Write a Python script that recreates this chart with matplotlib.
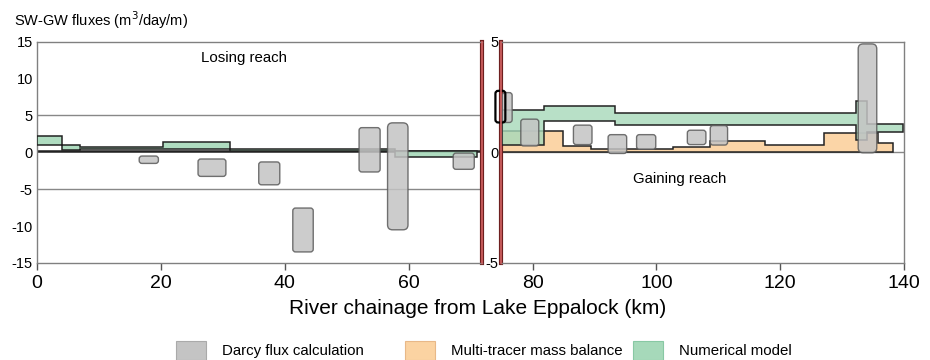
import numpy as np
import matplotlib.pyplot as plt
from matplotlib.patches import FancyBboxPatch, Rectangle

plt.rcParams['font.family'] = ['Liberation Sans', 'DejaVu Sans']
plt.rcParams['axes.unicode_minus'] = False

# ---- data (km, m3/day/m) ----
# numerical model, losing reach: segment edges, lower and upper bounds
num_l_x = [0, 4.1, 7.0, 20.4, 31.1, 57.8, 71.0]
num_l_lo = [1.0, 0.33, 0.4, 0.4, 0.15, -0.58]
num_l_hi = [2.27, 1.0, 0.77, 1.4, 0.4, 0.13]
# multi-tracer, losing reach
mt_l_x = [0, 71.5]
mt_l_lo = [0.0]
mt_l_hi = [0.12]
# darcy boxes, losing reach: x0, x1, y0, y1
darcy_l = [(16.5, 19.6, -1.5, -0.5),
           (26.0, 30.5, -3.26, -0.9),
           (35.8, 39.2, -4.4, -1.3),
           (41.3, 44.6, -13.5, -7.55),
           (52.0, 55.4, -2.66, 3.35),
           (56.6, 59.9, -10.5, 4.0),
           (67.2, 70.6, -2.3, -0.1)]

# numerical model, gaining reach
num_g_x = [75.0, 81.8, 93.3, 132.2, 134.1, 139.9]
num_g_lo = [0.33, 1.43, 1.23, 0.55, 0.9]
num_g_hi = [1.91, 2.09, 1.76, 2.32, 1.30]
# multi-tracer, gaining reach
mt_g_x = [75.0, 84.9, 89.4, 102.7, 108.6, 117.6, 127.0, 135.8, 138.2]
mt_g_lo = [0, 0, 0, 0, 0, 0, 0, 0]
mt_g_hi = [0.97, 0.29, 0.15, 0.22, 0.52, 0.33, 0.88, 0.43]
# darcy boxes, gaining reach
darcy_g = [(75.1, 76.7, 1.35, 2.7),
           (78.1, 81.0, 0.29, 1.5),
           (86.6, 89.6, 0.35, 1.23),
           (92.2, 95.2, -0.05, 0.8),
           (96.8, 99.9, 0.14, 0.8),
           (105.0, 108.0, 0.35, 1.0),
           (108.7, 111.5, 0.33, 1.21),
           (132.6, 135.6, -0.02, 4.9)]
darcy_g_outline = (74.0, 75.6, 1.35, 2.78)

legend_labels = ['Darcy flux calculation', 'Multi-tracer mass balance', 'Numerical model']

c_darcy = '#c4c4c4'
c_mt = '#fbd3a2'
c_num = '#a6d9ba'
c_edge = '#222222'
px_km = 6.193

fig = plt.figure(figsize=(9.3, 3.6), dpi=100)
axl = fig.add_axes([37 / 930, 97 / 360, 444.7 / 930, 221.3 / 360])
axr = fig.add_axes([501 / 930, 97 / 360, 403 / 930, 221.3 / 360])


def band(ax, xe, lo, hi, fc, alpha=1.0, z=2):
    # stepped band drawn as one outlined polygon
    xs, ys = [], []
    for i in range(len(hi)):
        xs += [xe[i], xe[i + 1]]
        ys += [hi[i], hi[i]]
    for i in reversed(range(len(lo))):
        xs += [xe[i + 1], xe[i]]
        ys += [lo[i], lo[i]]
    ax.fill(xs, ys, facecolor=fc, alpha=alpha, edgecolor='none', zorder=z)
    ax.fill(xs, ys, facecolor='none', edgecolor=c_edge, linewidth=1.1, zorder=z + 0.1)


def boxes(ax, data, px_unit, fc=c_darcy, ec='#5a5a5a', lw=1.0, fill=True, z=4):
    for x0, x1, y0, y1 in data:
        h_px = (y1 - y0) * px_unit
        r = 0.8 if h_px > 60 else 0.45
        p = FancyBboxPatch((x0, y0), x1 - x0, y1 - y0,
                           boxstyle='round,pad=0,rounding_size=%g' % r,
                           mutation_aspect=px_km / px_unit,
                           facecolor=fc if fill else 'none',
                           edgecolor=ec, linewidth=lw, alpha=0.85 if fill else 1,
                           zorder=z, clip_on=False)
        ax.add_patch(p)


# losing reach
axl.axhline(5, color='#888888', lw=1, zorder=1)
axl.axhline(-5, color='#888888', lw=1, zorder=1)
band(axl, mt_l_x, mt_l_lo, mt_l_hi, c_mt, z=2)
band(axl, num_l_x, num_l_lo, num_l_hi, c_num, alpha=0.9, z=3)
boxes(axl, darcy_l, 7.37)
axl.set_xlim(0, 71.8)
axl.set_ylim(-15, 15)
axl.set_xticks([0, 20, 40, 60])
axl.set_yticks([15, 10, 5, 0, -5, -10, -15])
axl.text(33.4, 12.8, 'Losing reach', ha='center', va='center', fontsize=10.8)

# gaining reach
axr.axhline(0, color='#888888', lw=1, zorder=1)
band(axr, mt_g_x, mt_g_lo, mt_g_hi, c_mt, alpha=0.95, z=2)
band(axr, num_g_x, num_g_lo, num_g_hi, c_num, alpha=0.8, z=3)
boxes(axr, darcy_g, 22.1)
boxes(axr, [darcy_g_outline], 22.1, ec='black', lw=1.6, fill=False, z=5)
axr.set_xlim(74.9, 140)
axr.set_ylim(-5, 5)
axr.set_xticks([80, 100, 120, 140])
axr.set_yticks([5, 0, -5])
axr.text(103.7, -1.2, 'Gaining reach', ha='center', va='center', fontsize=10.8)

for ax in (axl, axr):
    for s in ax.spines.values():
        s.set_color('#808080')
        s.set_linewidth(1)
    ax.tick_params(axis='y', length=0, labelsize=10.5, pad=3)
    ax.tick_params(axis='x', length=5, width=1, color='#555555', labelsize=14, pad=4)
axr.tick_params(axis='y', pad=2)

# red break lines at the inner edges
for ax, xb in ((axl, 71.8), (axr, 74.9)):
    side = 'right' if ax is axl else 'left'
    ax.spines[side].set_color('#6e1f1f')
    ax.spines[side].set_linewidth(3)
    ax.axvline(xb, color='#d36464', lw=1.2, zorder=6, clip_on=False)

fig.text(14 / 930, 1 - 20 / 360, 'SW-GW fluxes (m$^3$/day/m)', fontsize=10.5,
         ha='left', va='center')
fig.text(478 / 930, 1 - 308 / 360, 'River chainage from Lake Eppalock (km)',
         fontsize=15, ha='center', va='center')

# legend, placed by hand
for i, (lab, fc, ec) in enumerate(zip(legend_labels, [c_darcy, c_mt, c_num],
                                      ['#aaaaaa', '#e8b888', '#88c8a4'])):
    x0 = 176 + 228.5 * i
    fig.patches.append(Rectangle((x0 / 930, 0), 30 / 930, 19 / 360, transform=fig.transFigure,
                                 facecolor=fc, edgecolor=ec, linewidth=0.8, figure=fig))
    fig.text((x0 + 46) / 930, 1 - 351 / 360, lab, fontsize=10.8, ha='left', va='center')

fig.savefig('out.png', dpi=100)
